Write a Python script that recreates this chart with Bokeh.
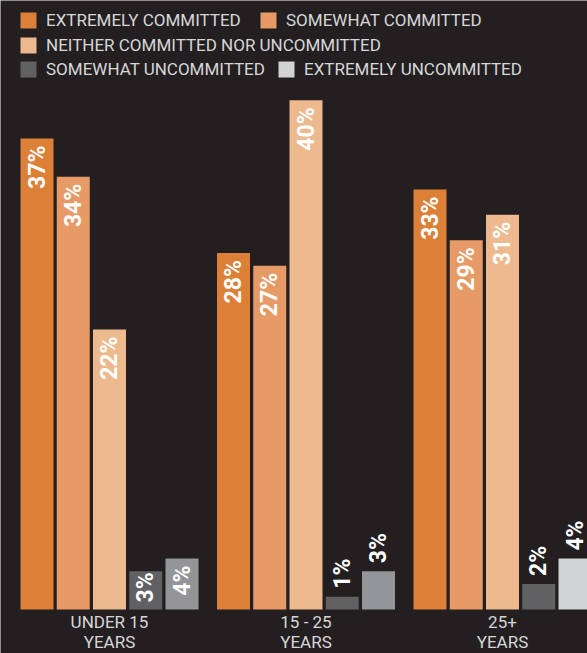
from bokeh.plotting import figure
from bokeh.models import Range1d, ColumnDataSource, Legend, LegendItem
from bokeh.core.properties import value
from bokeh.embed import file_html
from bokeh.resources import INLINE
import math

# ---- data ----
groups = ["UNDER 15\nYEARS", "15 - 25\nYEARS", "25+\nYEARS"]
series = ["EXTREMELY COMMITTED", "SOMEWHAT COMMITTED",
          "NEITHER COMMITTED NOR UNCOMMITTED",
          "SOMEWHAT UNCOMMITTED", "EXTREMELY UNCOMMITTED"]
extremely_committed = [37, 28, 33]
somewhat_committed = [34, 27, 29]
neither_committed = [22, 40, 31]
somewhat_uncommitted = [3, 1, 2]
extremely_uncommitted = [4, 3, 4]
values = [extremely_committed, somewhat_committed, neither_committed,
          somewhat_uncommitted, extremely_uncommitted]

# ---- style ----
# label placement: True = inside bar top, False = above bar
label_inside = [[True, True, True], [True, True, True], [True, True, True],
                [True, False, False], [True, False, False]]
# screen offset (px) of inside labels below the bar top
label_inset = [[7, 7, 7], [7, 7, 7], [7, 7, 7], [1, 7, 7], [7, 7, 7]]

BG = "#231f20"
series_colors = [["#dc7f37"] * 3, ["#e69b67"] * 3, ["#edb98e"] * 3,
                 ["#616163"] * 3, ["#939598", "#939598", "#d1d3d4"]]
TEXT_LIGHT = "#d6d7d8"
FONT = "Roboto"

BAR_PITCH_PX = 36.25
GROUP_PITCH = 196.5 / BAR_PITCH_PX
BAR_W = 33 / BAR_PITCH_PX
PX_PER_PCT = 12.73
W, H = 587, 653

x_start = -BAR_W / 2 - 20 / BAR_PITCH_PX
x_end = x_start + W / BAR_PITCH_PX
y_start = -(H - 609) / PX_PER_PCT
y_end = y_start + H / PX_PER_PCT

p = figure(width=W, height=H, x_range=Range1d(x_start, x_end),
           y_range=Range1d(y_start, y_end), output_backend="svg",
           toolbar_location=None, min_border=0,
           x_axis_location=None, y_axis_location=None)
p.background_fill_color = BG
p.border_fill_color = BG
p.outline_line_color = None
p.grid.visible = False

renderers = []
in_x, in_y, in_t, in_off = [], [], [], []
out_x, out_y, out_t = [], [], []
for si, vals in enumerate(values):
    xs = [gi * GROUP_PITCH + si for gi in range(len(groups))]
    src = ColumnDataSource(dict(x=xs, top=vals, color=series_colors[si]))
    r = p.vbar(x="x", top="top", bottom=0, width=BAR_W, fill_color="color",
               line_color=None, source=src)
    renderers.append(r)
    for gi, v in enumerate(vals):
        if label_inside[si][gi]:
            in_x.append(xs[gi]); in_y.append(v); in_t.append(f"{v}%")
            in_off.append(label_inset[si][gi])
        else:
            out_x.append(xs[gi]); out_y.append(v); out_t.append(f"{v}%")

in_src = ColumnDataSource(dict(x=in_x, y=in_y, t=in_t, off=in_off))
p.text(x="x", y="y", text="t", y_offset="off", source=in_src,
       angle=math.pi / 2, text_align="right", text_baseline="middle",
       text_color="white", text_font=value(FONT), text_font_style="bold",
       text_font_size="23px")
p.text(x=out_x, y=out_y, text=out_t, angle=math.pi / 2, text_align="left",
       text_baseline="middle", y_offset=-8, text_color="white",
       text_font=value(FONT), text_font_style="bold", text_font_size="23px")

# category labels
cx = [gi * GROUP_PITCH + 2 for gi in range(len(groups))]
p.text(x=cx, y=[0] * len(groups), text=groups, text_align="center",
       text_baseline="top", y_offset=2, text_color=TEXT_LIGHT,
       text_font=value(FONT), text_font_size="17px", text_line_height=1.0)

# legends
legend_locs = [(18, 623), (258, 623), (18, 598), (18, 574), (276, 574)]
legend_index = [0, 0, 0, 0, 2]
for si, loc in enumerate(legend_locs):
    lg = Legend(items=[LegendItem(label=series[si], renderers=[renderers[si]],
                                  index=legend_index[si])],
                location=loc, orientation="horizontal", padding=0, margin=0,
                spacing=0, glyph_width=20, glyph_height=20, label_height=20,
                label_standoff=8, border_line_color=None,
                background_fill_alpha=0, label_text_font=FONT,
                label_text_font_size="17px", label_text_color=TEXT_LIGHT)
    p.add_layout(lg)

open("out.html", "w").write(file_html(p, INLINE))
